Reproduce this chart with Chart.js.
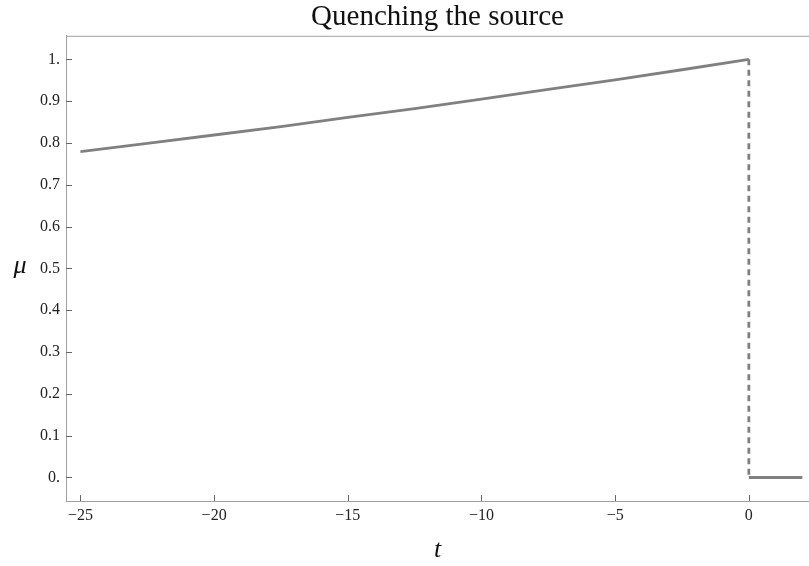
<!DOCTYPE html>
<html>
<head>
<meta charset="utf-8">
<script src="https://cdn.jsdelivr.net/npm/chart.js@4/dist/chart.umd.min.js"></script>
<style>
  html, body { margin: 0; padding: 0; background: #ffffff; }
  #wrap { width: 809px; height: 566px; position: relative; }
</style>
</head>
<body>
<div id="wrap"><canvas id="c" width="809" height="566"></canvas></div>
<script>
// ---- data ----
const titleText = 'Quenching the source';
const xLabel = 't';
const yLabel = 'μ';
// before the quench: mu(t)
const tBefore = [-25, -22.5, -20, -17.5, -15, -12.5, -10, -7.5, -5, -2.5, 0];
const muBefore = [0.779, 0.799, 0.819, 0.839, 0.861, 0.882, 0.905, 0.928, 0.951, 0.975, 1.0];
// the jump at t = 0 (dotted)
const tJump = [0, 0];
const muJump = [1.0, 0.0];
// after the quench
const tAfter = [0, 2];
const muAfter = [0, 0];
// ticks
const xTickValues = [-25, -20, -15, -10, -5, 0];
const xTickLabels = ['\u221225', '\u221220', '\u221215', '\u221210', '\u22125', '0'];
const yTickValues = [0, 0.1, 0.2, 0.3, 0.4, 0.5, 0.6, 0.7, 0.8, 0.9, 1.0];
const yTickLabels = ['0.', '0.1', '0.2', '0.3', '0.4', '0.5', '0.6', '0.7', '0.8', '0.9', '1.'];

const toPts = (xs, ys) => xs.map((x, i) => ({ x: x, y: ys[i] }));

const lineColor = '#808080';
const axisColor = '#a0a0a0';
const serif = "'Liberation Serif', 'DejaVu Serif', serif";

const framePlugin = {
  id: 'frame',
  afterDatasetsDraw(chart) {
    const ctx = chart.ctx;
    const a = chart.chartArea;
    const xs = chart.scales.x, ys = chart.scales.y;
    ctx.save();
    ctx.strokeStyle = axisColor;
    ctx.lineWidth = 1;
    // top frame line
    ctx.beginPath();
    ctx.moveTo(a.left, a.top + 0.5);
    ctx.lineTo(a.right, a.top + 0.5);
    ctx.stroke();
    // inward ticks on x
    ctx.strokeStyle = '#666';
    xs.ticks.forEach(t => {
      const px = Math.round(xs.getPixelForValue(t.value)) + 0.5;
      ctx.beginPath();
      ctx.moveTo(px, a.bottom);
      ctx.lineTo(px, a.bottom - 6);
      ctx.stroke();
    });
    // inward ticks on y
    ys.ticks.forEach(t => {
      const py = Math.round(ys.getPixelForValue(t.value)) + 0.5;
      ctx.beginPath();
      ctx.moveTo(a.left, py);
      ctx.lineTo(a.left + 6, py);
      ctx.stroke();
    });
    // y axis label (unrotated)
    ctx.fillStyle = '#111';
    ctx.font = "italic 26px " + serif;
    ctx.textAlign = 'center';
    ctx.textBaseline = 'middle';
    ctx.fillText(yLabel, 20, (a.top + a.bottom) / 2 - 2);
    ctx.restore();
  }
};

new Chart(document.getElementById('c'), {
  type: 'scatter',
  data: {
    datasets: [
      { data: toPts(tBefore, muBefore), showLine: true, borderColor: lineColor, borderWidth: 2.8, pointRadius: 0, tension: 0 },
      { data: toPts(tJump, muJump), showLine: true, borderColor: lineColor, borderWidth: 2.8, borderDash: [6, 4.5], pointRadius: 0 },
      { data: toPts(tAfter, muAfter), showLine: true, borderColor: lineColor, borderWidth: 2.8, pointRadius: 0 }
    ]
  },
  options: {
    responsive: false,
    animation: false,
    layout: { padding: { left: 0, right: 0, top: 0, bottom: 0 } },
    plugins: {
      legend: { display: false },
      tooltip: { enabled: false },
      title: {
        display: true,
        text: titleText,
        fullSize: false,
        color: '#111',
        font: { family: serif, size: 29, weight: 'normal' },
        padding: { top: 0, bottom: 1 }
      }
    },
    scales: {
      x: {
        type: 'linear',
        min: -25.54,
        max: 2.25,
        grid: { display: false, drawTicks: false, tickLength: 0 },
        border: { display: true, color: axisColor, width: 1 },
        afterBuildTicks: s => { s.ticks = xTickValues.map(v => ({ value: v })); },
        afterFit: s => { s.height = 65; },
        ticks: {
          autoSkip: false,
          maxRotation: 0,
          color: '#222',
          padding: 5,
          font: { family: serif, size: 16 },
          callback: (v) => xTickLabels[xTickValues.indexOf(v)]
        },
        title: {
          display: true,
          text: xLabel,
          color: '#111',
          font: { family: serif, size: 26, style: 'italic' },
          padding: { top: 0, bottom: 0 }
        }
      },
      y: {
        type: 'linear',
        min: -0.0562,
        max: 1.0562,
        grid: { display: false, drawTicks: false, tickLength: 0 },
        border: { display: true, color: axisColor, width: 1 },
        afterBuildTicks: s => { s.ticks = yTickValues.map(v => ({ value: v })); },
        afterFit: s => { s.width = 66; },
        ticks: {
          autoSkip: false,
          color: '#222',
          padding: 6,
          font: { family: serif, size: 16 },
          callback: (v) => {
            const i = yTickValues.findIndex(t => Math.abs(t - v) < 1e-9);
            return i >= 0 ? yTickLabels[i] : '';
          }
        }
      }
    }
  },
  plugins: [framePlugin]
});
</script>
</body>
</html>
